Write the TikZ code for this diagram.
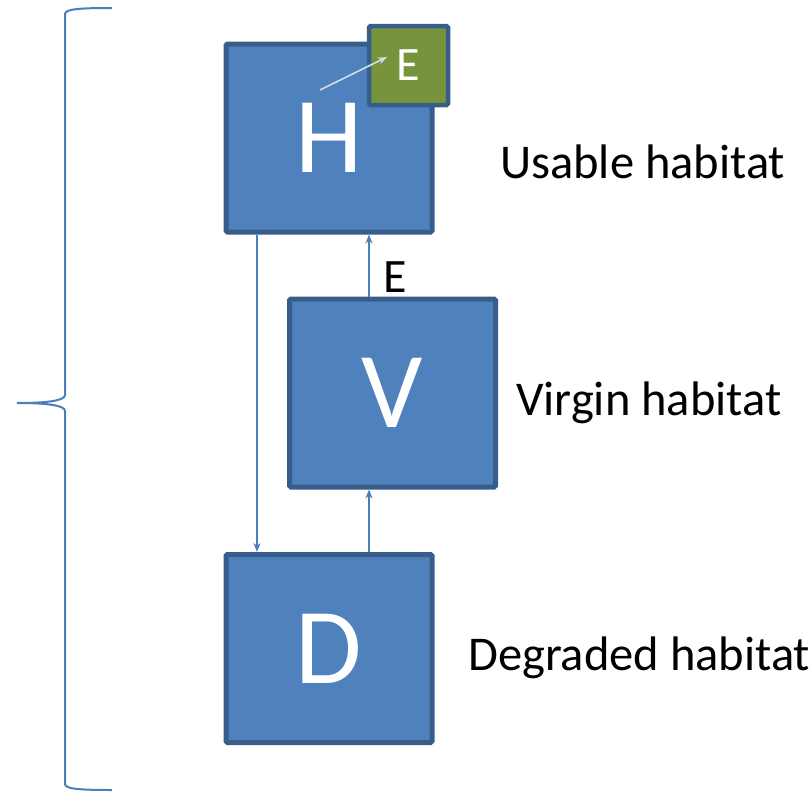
\documentclass[tikz,border=0pt]{standalone}
\usepackage{fontspec}
\setmainfont{Carlito}
\usetikzlibrary{arrows.meta}
\definecolor{boxfill}{HTML}{4F81BD}
\definecolor{boxline}{HTML}{385D8A}
\definecolor{greenfill}{HTML}{77933C}
\definecolor{arrowcol}{HTML}{4A7EBB}
\definecolor{lightarrow}{HTML}{D0DDEE}
\tikzset{
  bigbox/.style={draw=boxline, fill=boxfill, line width=5pt, rounded corners=1.5pt,
    minimum width=206pt, minimum height=188pt, inner sep=0pt, text=white,
    font=\fontsize{108}{110}\selectfont},
  ebox/.style={draw=boxline, fill=greenfill, line width=4.5pt, rounded corners=1.5pt,
    minimum width=79pt, minimum height=79pt, inner sep=0pt, text=white,
    font=\fontsize{48}{52}\selectfont},
  lbl/.style={anchor=west, inner sep=0pt, font=\fontsize{48.5}{52}\selectfont},
  conn/.style={draw=arrowcol, line width=1.5pt, -{Stealth[length=9pt,width=7pt]}},
  brace/.style={draw=arrowcol, line width=2pt}
}
\begin{document}
\begin{tikzpicture}[x=1pt,y=-1pt]
\useasboundingbox (0,0) rectangle (812,795);
\node[bigbox] (H) at (329,138) {\raisebox{-2pt}{H}};
\node[ebox] (E) at (408.5,65.5) {\raisebox{-2pt}{E}};
\node[bigbox] (V) at (392.5,393) {\raisebox{-2pt}{V}};
\node[bigbox] (D) at (329,648.5) {\raisebox{-2pt}{D}};
\coordinate (la) at (257,0);
\coordinate (lb) at (369,0);
\draw[conn] (H.south -| la) -- (D.north -| la);
\draw[conn] (V.north -| lb) -- (H.south -| lb);
\draw[conn] (D.north -| lb) -- (V.south -| lb);
\node[font=\fontsize{48}{52}\selectfont, inner sep=0pt] (elbl) at (395,277) {E};
\coordinate (sa) at (320,90);
\coordinate (sb) at (387,57);
\draw[draw=lightarrow, line width=1.6pt, -{Stealth[length=9pt,width=7pt]}] (sa) -- (sb);
\node[lbl] (u) at (500,162) {Usable habitat};
\node[lbl] (v) at (516,403) {Virgin habitat};
\node[lbl] (d) at (468,658) {Degraded habitat};
\coordinate (bt) at (112,8);
\coordinate (bm) at (17,403);
\coordinate (bb) at (112,790);
\draw[brace] (bt) .. controls (80,8) and (65,9) .. (65,14) -- (65,395)
  .. controls (65,401) and (45,403) .. (bm)
  .. controls (45,403) and (65,405) .. (65,411) -- (65,784)
  .. controls (65,789) and (80,790) .. (bb);
\end{tikzpicture}
\end{document}
